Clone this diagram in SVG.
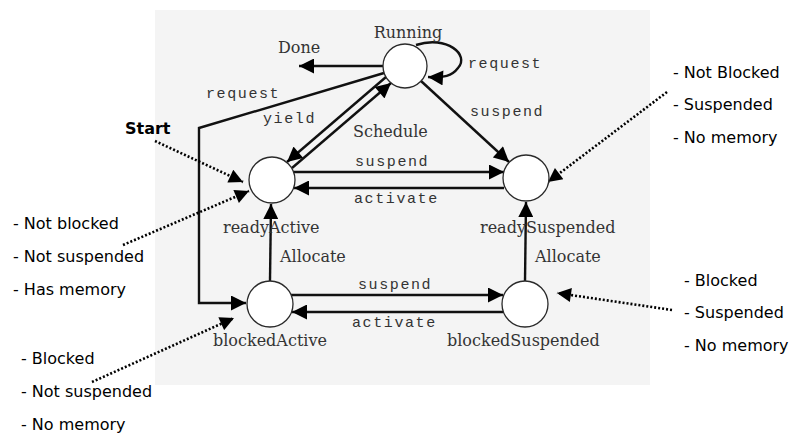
<svg xmlns="http://www.w3.org/2000/svg" width="796" height="436" viewBox="0 0 796 436">
<style>
.bg{fill:#f4f4f4}
.st{fill:#fff;stroke:#2a2a2a;stroke-width:1.3}
.nl{font-family:"DejaVu Serif",serif;font-size:16px;fill:#333}
.cl{font-family:"Liberation Mono",monospace;font-size:15px;letter-spacing:1.6px;fill:#333}
.an{font-family:"DejaVu Sans",sans-serif;font-size:16px;fill:#000}
.ln{fill:none;stroke:#111;stroke-width:2.4}
.dt{fill:none;stroke:#000;stroke-width:2.6;stroke-dasharray:2 2}
</style>
<defs>
<marker id="ah" viewBox="0 0 10 10" refX="10" refY="5" markerUnits="userSpaceOnUse" markerWidth="16" markerHeight="15" orient="auto">
<path d="M0,0 L10,5 L0,10 z" fill="#000"/>
</marker>
<marker id="dh" viewBox="0 0 10 10" refX="10" refY="5" markerUnits="userSpaceOnUse" markerWidth="15" markerHeight="14" orient="auto">
<path d="M0,0 L10,5 L0,10 z" fill="#000"/>
</marker>
</defs>
<rect class="bg" x="155" y="10" width="495" height="375"/>

<g id="connectors">
<path class="ln" d="M383,66 L299,66" marker-end="url(#ah)"/>
<path class="ln" d="M416,45 C447,35 470,55 458,68 C452,76 444,78 428,77" marker-end="url(#ah)"/>
<path class="ln" d="M384,73 L199,128 L199,303 L246,303" marker-end="url(#ah)"/>
<path class="ln" d="M386,77 L287,162" marker-end="url(#ah)"/>
<path class="ln" d="M292,168 L391,83" marker-end="url(#ah)"/>
<path class="ln" d="M421,81 L509,162" marker-end="url(#ah)"/>
<path class="ln" d="M294,172 L504,172" marker-end="url(#ah)"/>
<path class="ln" d="M504,188 L294,188" marker-end="url(#ah)"/>
<path class="ln" d="M270,281 L271,204" marker-end="url(#ah)"/>
<path class="ln" d="M525,281 L526,202" marker-end="url(#ah)"/>
<path class="ln" d="M291,295 L503,295" marker-end="url(#ah)"/>
<path class="ln" d="M503,312 L292,312" marker-end="url(#ah)"/>
<path class="dt" d="M155,141 L243,182" marker-end="url(#dh)"/>
<path class="dt" d="M123,245 L249,191" marker-end="url(#dh)"/>
<path class="dt" d="M92,382 L234,318" marker-end="url(#dh)"/>
<path class="dt" d="M667,92 L548,182" marker-end="url(#dh)"/>
<path class="dt" d="M672,310 L557,293" marker-end="url(#dh)"/>
</g>

<g id="running">
<circle class="st" cx="405" cy="66" r="22"/>
<text class="nl" x="408" y="38" text-anchor="middle">Running</text>
</g>
<g id="done"><text class="nl" x="278" y="53">Done</text></g>
<g id="readyActive">
<circle class="st" cx="272" cy="180" r="23"/>
<text class="nl" x="223" y="233">readyActive</text>
</g>
<g id="readySuspended">
<circle class="st" cx="526" cy="178" r="23"/>
<text class="nl" x="480" y="233">readySuspended</text>
</g>
<g id="blockedActive">
<circle class="st" cx="270" cy="304" r="23"/>
<text class="nl" x="213" y="346">blockedActive</text>
</g>
<g id="blockedSuspended">
<circle class="st" cx="525" cy="304" r="23"/>
<text class="nl" x="447" y="346">blockedSuspended</text>
</g>

<g id="edge-labels">
<text class="cl" x="206" y="98">request</text>
<text class="cl" x="468" y="68">request</text>
<text class="cl" x="263" y="123">yield</text>
<text class="nl" x="353" y="137">Schedule</text>
<text class="cl" x="470" y="116">suspend</text>
<text class="cl" x="355" y="166">suspend</text>
<text class="cl" x="354" y="203">activate</text>
<text class="nl" x="280" y="262">Allocate</text>
<text class="nl" x="535" y="262">Allocate</text>
<text class="cl" x="358" y="289">suspend</text>
<text class="cl" x="352" y="327">activate</text>
</g>

<g id="annotations">
<text class="an" x="125" y="134" font-weight="bold">Start</text>
<text class="an" x="673" y="78">- Not Blocked</text>
<text class="an" x="673" y="110">- Suspended</text>
<text class="an" x="673" y="143">- No memory</text>
<text class="an" x="13" y="229">- Not blocked</text>
<text class="an" x="13" y="262">- Not suspended</text>
<text class="an" x="13" y="295">- Has memory</text>
<text class="an" x="21" y="364">- Blocked</text>
<text class="an" x="21" y="397">- Not suspended</text>
<text class="an" x="21" y="430">- No memory</text>
<text class="an" x="684" y="286">- Blocked</text>
<text class="an" x="684" y="318">- Suspended</text>
<text class="an" x="684" y="351">- No memory</text>
</g>
</svg>
